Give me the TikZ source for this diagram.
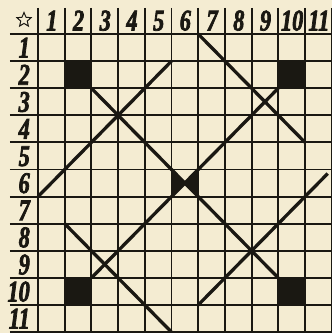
\documentclass[tikz,border=0pt]{standalone}
\usepackage{fontspec}
\newfontfamily\numfont[FakeStretch=0.74, FakeBold=2.4, UprightFont={* Bold Italic}]{Liberation Serif}
\usetikzlibrary{shapes.geometric}
\definecolor{paper}{RGB}{244,236,210}
\definecolor{ink}{RGB}{26,24,18}
\begin{document}
\begin{tikzpicture}[x=1pt,y=-1pt,
  gridline/.style={draw=ink, line width=1.9pt},
  diag/.style={draw=ink, line width=3.3pt},
  blk/.style={fill=ink},
  num/.style={font=\numfont\fontsize{30}{30}\selectfont, text=ink, inner sep=0pt, text height=20pt, text depth=0pt}]
\fill[paper] (0,0) rectangle (332,333);
\useasboundingbox (0,0) rectangle (332,333);
\node[star, star points=5, star point ratio=2.2, draw=ink, line width=1pt, minimum size=15pt, inner sep=0pt] (corner) at (24,20) {};
\begin{scope}[shift={(38,34)}, x=26.7pt, y=-27.1pt]
  % grid
  \foreach \r in {0,...,11} \draw[gridline] (-1.05,\r) -- (11.1,\r);
  \foreach \c in {0,...,11} \draw[gridline] (\c,-0.96) -- (\c,11.1);
  % headers
  \foreach \k in {1,...,11} {
    \node[num] (col\k) at (\k-0.48,-0.5) {\k};
    \node[num, anchor=east] (row\k) at (-0.3,\k-0.5) {\k};
  }
  % black squares
  \fill[blk] (1,1) rectangle (2,2);
  \fill[blk] (9,1) rectangle (10,2);
  \fill[blk] (1,9) rectangle (2,10);
  \fill[blk] (9,9) rectangle (10,10);
  \fill[blk] (5,5) -- (5.5,5.5) -- (5,6) -- cycle;
  \fill[blk] (6,5) -- (5.5,5.5) -- (6,6) -- cycle;
  % endpoints
  \coordinate (a1) at (2,2);  \coordinate (a2) at (9,9);
  \coordinate (b1) at (9,2);  \coordinate (b2) at (2,9);
  \coordinate (c1) at (6,0);  \coordinate (c2) at (10,4);
  \coordinate (d1) at (5,1);  \coordinate (d2) at (0,6);
  \coordinate (f1) at (10.85,5.15); \coordinate (f2) at (6,10);
  \coordinate (g1) at (1,7);  \coordinate (g2) at (5.15,11.15);
  \draw[diag] (a1) -- (a2);
  \draw[diag] (b1) -- (b2);
  \draw[diag] (c1) -- (c2);
  \draw[diag] (d1) -- (d2);
  \draw[diag] (f1) -- (f2);
  \draw[diag] (g1) -- (g2);
\end{scope}
\end{tikzpicture}
\end{document}
